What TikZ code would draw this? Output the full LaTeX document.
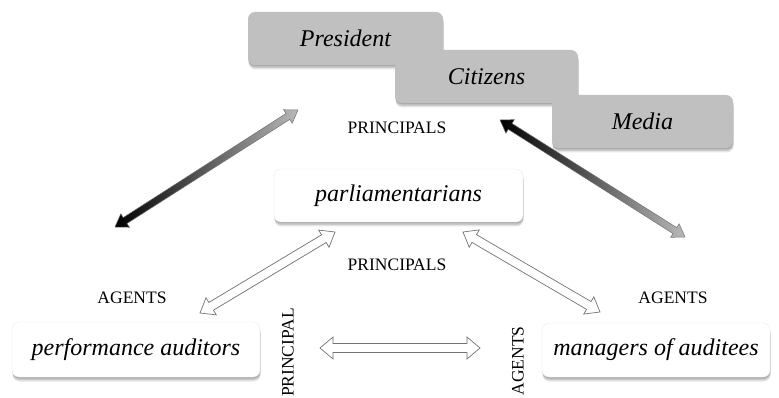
\documentclass[tikz,border=0pt]{standalone}
\usepackage{fontspec}
\setmainfont{Liberation Serif}
\usetikzlibrary{calc,shadows}
\definecolor{boxgray}{RGB}{192,192,192}
\tikzset{
  softshadow/.style={
    general shadow={fill=black, opacity=0.10, shadow xshift=0.5pt, shadow yshift=-4.5pt, shadow scale=1.0},
    general shadow={fill=black, opacity=0.12, shadow xshift=0.5pt, shadow yshift=-3pt},
    general shadow={fill=black, opacity=0.15, shadow xshift=0.3pt, shadow yshift=-1.5pt}},
  actorbox/.style={rounded corners=7pt, inner sep=0pt,
    font=\fontsize{24}{28}\selectfont\itshape, softshadow},
  principalbox/.style={actorbox, fill=boxgray},
  agentbox/.style={actorbox, fill=white, draw=black!8},
  lbl/.style={font=\fontsize{17.5}{20}\selectfont, inner sep=0pt},
  gradarrow/.style={draw=black!55, line width=0.5pt, left color=black, right color=black!28},
  hollowarrow/.style={draw=black!55, line width=0.7pt, fill=white},
}
\newcommand\dblarrow[6]{%
  \path[#1] (#2) -- ($(#2)!#6!(#3)!#5!90:(#3)$) -- ($(#2)!#6!(#3)!#4!90:(#3)$)
    -- ($(#3)!#6!(#2)!#4!-90:(#2)$) -- ($(#3)!#6!(#2)!#5!-90:(#2)$) -- (#3)
    -- ($(#3)!#6!(#2)!#5!90:(#2)$) -- ($(#3)!#6!(#2)!#4!90:(#2)$)
    -- ($(#2)!#6!(#3)!#4!-90:(#3)$) -- ($(#2)!#6!(#3)!#5!-90:(#3)$) -- cycle;}
\begin{document}
\begin{tikzpicture}[x=1pt,y=-1pt]
\useasboundingbox (0,0) rectangle (779,398);
% principal boxes
\node[principalbox, minimum width=195pt, minimum height=53pt] (pres) at (345.5,38.5) {President};
\node[principalbox, minimum width=183pt, minimum height=53pt] (cit) at (486.5,76.5) {Citizens};
\node[principalbox, minimum width=181pt, minimum height=53pt] (media) at (642.5,121.5) {Media};
% agent boxes
\node[agentbox, minimum width=249pt, minimum height=53pt] (parl) at (398.5,195.5) {parliamentarians};
\node[agentbox, minimum width=248pt, minimum height=55pt] (perf) at (136,349.5) {performance auditors};
\node[agentbox, minimum width=228pt, minimum height=54pt] (mgr) at (656,350) {managers of auditees};
% labels
\node[lbl] (p1) at (397,128) {PRINCIPALS};
\node[lbl] (p2) at (397,265) {PRINCIPALS};
\node[lbl] (a1) at (132,298) {AGENTS};
\node[lbl] (a2) at (673,298) {AGENTS};
\node[lbl, rotate=90] (p3) at (288,352.5) {PRINCIPAL};
\node[lbl, rotate=90] (a3) at (518,361) {AGENTS};
% arrow end points
\coordinate (g1a) at (115,227);
\coordinate (g1b) at (298,110);
\coordinate (g2a) at (500,120);
\coordinate (g2b) at (685,237);
\coordinate (o1a) at (335,232);
\coordinate (o1b) at (200,313);
\coordinate (o2a) at (463,232);
\coordinate (o2b) at (600,312);
\coordinate (o3a) at (320,348);
\coordinate (o3b) at (480,348);
% arrows
\dblarrow{gradarrow}{g1a}{g1b}{3.5pt}{8pt}{12pt}
\dblarrow{gradarrow}{g2a}{g2b}{3.5pt}{8pt}{12pt}
\dblarrow{hollowarrow}{o1a}{o1b}{4.5pt}{10pt}{13pt}
\dblarrow{hollowarrow}{o2a}{o2b}{4.5pt}{10pt}{13pt}
\dblarrow{hollowarrow}{o3a}{o3b}{4.5pt}{11pt}{13pt}
\end{tikzpicture}
\end{document}
